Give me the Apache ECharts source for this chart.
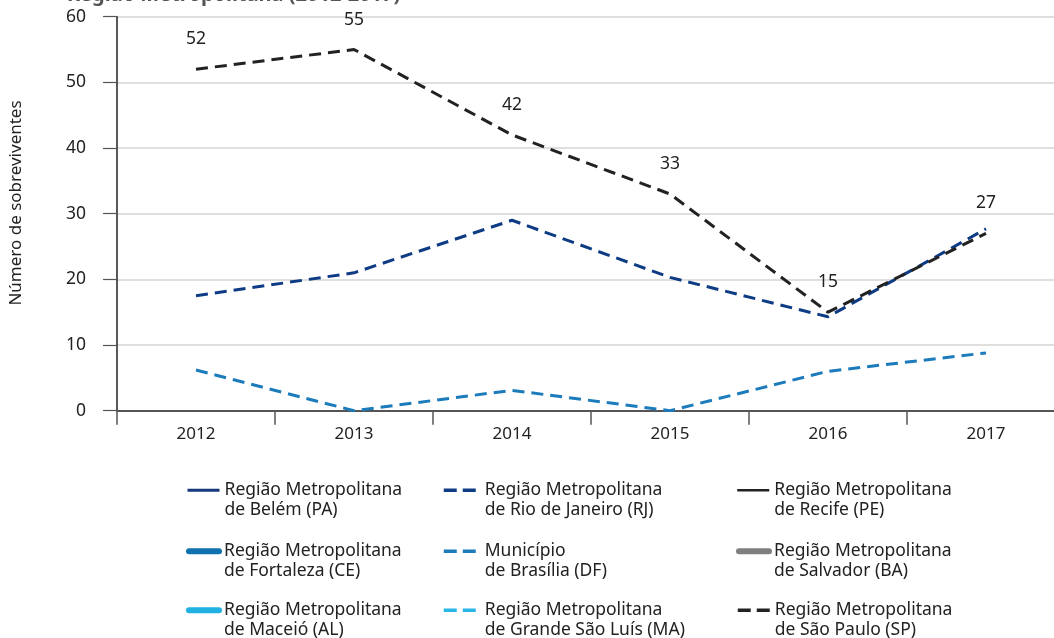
<!DOCTYPE html>
<html>
<head>
<meta charset="utf-8">
<script src="https://cdn.jsdelivr.net/npm/echarts@6/dist/echarts.min.js"></script>
<style>
  html, body { margin: 0; padding: 0; background: #fff; }
  #chart { width: 1054px; height: 638px; }
</style>
</head>
<body>
<div id="chart"></div>
<script>
const titleText = 'Região Metropolitana (2012-2017)';
const yAxisTitle = 'Número de sobreviventes';
const years = ['2012', '2013', '2014', '2015', '2016', '2017'];

const belem = [];
const fortaleza = [];
const maceio = [];
const rioDeJaneiro = [17.5, 21, 29, 20.3, 14.3, 27.7];
const brasilia = [6.2, 0, 3.1, 0, 6, 8.8];
const saoLuis = [];
const recife = [];
const salvador = [];
const saoPaulo = [52, 55, 42, 33, 15, 27];

const names = {
  belem: 'Região Metropolitana\nde Belém (PA)',
  fortaleza: 'Região Metropolitana\nde Fortaleza (CE)',
  maceio: 'Região Metropolitana\nde Maceió (AL)',
  rio: 'Região Metropolitana\nde Rio de Janeiro (RJ)',
  brasilia: 'Município\nde Brasília (DF)',
  saoLuis: 'Região Metropolitana\nde Grande São Luís (MA)',
  recife: 'Região Metropolitana\nde Recife (PE)',
  salvador: 'Região Metropolitana\nde Salvador (BA)',
  saoPaulo: 'Região Metropolitana\nde São Paulo (SP)'
};

const DASH = [12, 7];
function lineSeries(name, data, color, width, dashed, extra) {
  return Object.assign({
    type: 'line',
    name: name,
    data: data,
    symbol: 'none',
    color: color,
    lineStyle: { color: color, width: width, type: dashed ? DASH : 'solid', cap: width > 4 ? 'round' : 'butt' },
    z: 3
  }, extra || {});
}

const chart = echarts.init(document.getElementById('chart'));
const FONT = '"Noto Sans", "Open Sans", sans-serif';

const colLefts = [186, 442, 736];
const colTextPad = [0, 4, 0];
const rowTops = [461, 522, 581];
function legendItem(col, row, name, width, dashed) {
  return {
    orient: 'vertical',
    left: colLefts[col],
    top: rowTops[row],
    itemWidth: width > 4 ? 30 : 32,
    itemHeight: 14,
    itemGap: 0,
    padding: 0,
    data: [name],
    selectedMode: false,
    itemStyle: { opacity: 0, borderWidth: 0 },
    lineStyle: { width: width, type: dashed ? [13, 6] : 'solid', cap: width > 4 ? 'round' : 'butt' },
    formatter: function (n) { return '\n' + n; },
    textStyle: { fontFamily: FONT, fontSize: 17.5, color: '#222', lineHeight: 19.5, padding: [0, 0, 0, colTextPad[col]] }
  };
}

chart.setOption({
  animation: false,
  backgroundColor: '#fff',
  textStyle: { fontFamily: FONT },
  graphic: [{
    type: 'text',
    left: 67,
    top: -15,
    style: { text: titleText, fontFamily: FONT, fontSize: 20, fontWeight: 'bold', fill: '#555' }
  }, {
    type: 'text',
    x: 16,
    y: 203,
    rotation: Math.PI / 2,
    style: { text: yAxisTitle, fontFamily: FONT, fontSize: 17, fill: '#222', align: 'center', verticalAlign: 'middle' }
  }],
  grid: { left: 117, right: -11, top: 16.7, bottom: 227.3, containLabel: false, outerBoundsMode: 'none' },
  legend: [
    legendItem(0, 0, names.belem, 3, false),
    legendItem(0, 1, names.fortaleza, 6, false),
    legendItem(0, 2, names.maceio, 6, false),
    legendItem(1, 0, names.rio, 3.5, true),
    legendItem(1, 1, names.brasilia, 3.5, true),
    legendItem(1, 2, names.saoLuis, 3.5, true),
    legendItem(2, 0, names.recife, 2.5, false),
    legendItem(2, 1, names.salvador, 6, false),
    legendItem(2, 2, names.saoPaulo, 3.5, true)
  ],
  xAxis: {
    type: 'category',
    data: years,
    boundaryGap: true,
    axisLine: { show: true, lineStyle: { color: '#555', width: 2 } },
    axisTick: { show: true, interval: 0, length: 14, inside: false, lineStyle: { color: '#555', width: 1.5 } },
    axisLabel: { fontSize: 17, color: '#222', margin: 15, fontFamily: FONT },
    splitLine: { show: false }
  },
  yAxis: {
    type: 'value',
    min: 0,
    max: 60,
    interval: 10,
    axisLine: { show: true, lineStyle: { color: '#222', width: 1.5 } },
    axisTick: { show: true, length: 14, inside: false, lineStyle: { color: '#555', width: 1.2 } },
    axisLabel: { fontSize: 17.5, color: '#222', margin: 31, fontFamily: FONT },
    splitLine: { show: true, lineStyle: { color: '#d4d4d4', width: 1.5 } }
  },
  series: [
    lineSeries(names.belem, belem, '#17387c', 3, false),
    lineSeries(names.fortaleza, fortaleza, '#1170b0', 6, false),
    lineSeries(names.maceio, maceio, '#20b1e2', 6, false),
    lineSeries(names.rio, rioDeJaneiro, '#0e3c84', 3, true),
    lineSeries(names.brasilia, brasilia, '#1c7bba', 3, true),
    lineSeries(names.saoLuis, saoLuis, '#2ab6e6', 3, true),
    lineSeries(names.recife, recife, '#222222', 2.5, false),
    lineSeries(names.salvador, salvador, '#7f7f7f', 6, false),
    lineSeries(names.saoPaulo, saoPaulo, '#222222', 3, true, {
      symbol: 'circle',
      symbolSize: 0.01,
      showSymbol: true,
      itemStyle: { color: 'rgba(0,0,0,0)' },
      label: { show: true, position: 'top', distance: 21, fontSize: 17.5, color: '#222', fontFamily: FONT },
      z: 4
    })
  ]
});
</script>
</body>
</html>
